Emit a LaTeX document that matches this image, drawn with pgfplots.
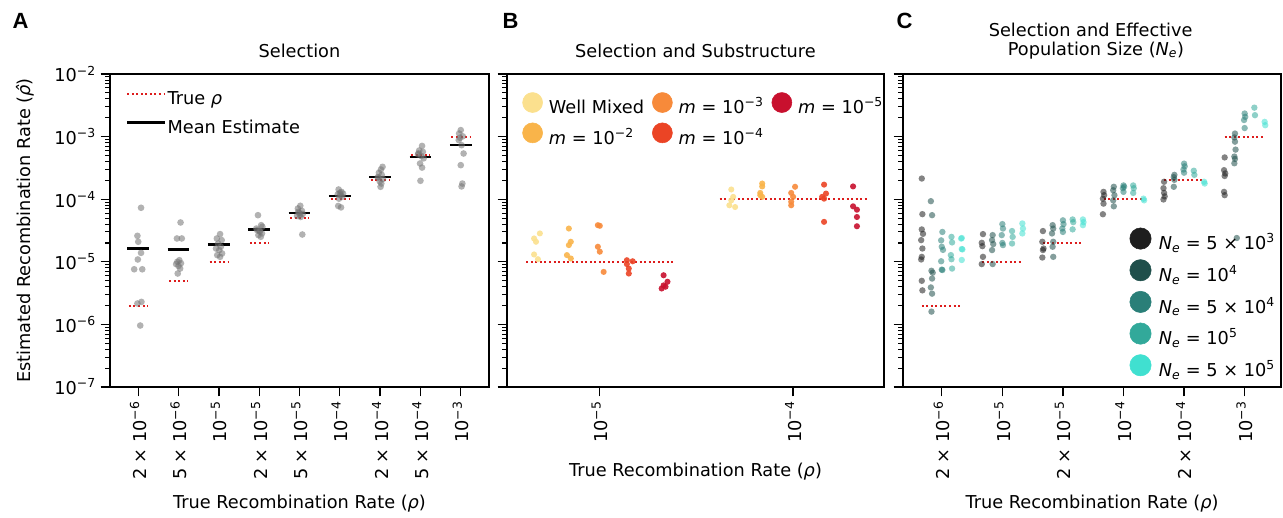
\documentclass[border=0pt]{standalone}
\usepackage{fontspec}
\setmainfont{DejaVu Sans}
\newfontfamily\letterfont{Liberation Sans}
\usepackage{pgfplots}
\pgfplotsset{compat=1.18}
\newcommand\myfs{\fontsize{13.3}{16}\selectfont}
\definecolor{dotred}{HTML}{DD1C1C}
\definecolor{cWM}{HTML}{FBE08E}
\definecolor{cM2}{HTML}{F9B44A}
\definecolor{cM3}{HTML}{F78A3A}
\definecolor{cM4}{HTML}{EB4425}
\definecolor{cM5}{HTML}{C8102E}
\definecolor{cN1}{HTML}{1E1E1E}
\definecolor{cN2}{HTML}{1F4F4B}
\definecolor{cN3}{HTML}{2A7F78}
\definecolor{cN4}{HTML}{32A99A}
\definecolor{cN5}{HTML}{40E0D0}
\begin{document}
\begin{tikzpicture}
\path (0pt,0pt) rectangle (962.25pt,-388.5pt);

% ---------------- Panel A ----------------
\begin{axis}[
  scale only axis, width=284.25pt, height=234.75pt,
  at={(82.5pt,-55.5pt)}, anchor=north west,
  ymode=log, ymin=1e-7, ymax=1e-2,
  ytick={1e-7,1e-6,1e-5,1e-4,1e-3,1e-2},
  minor ytick={2e-7,3e-7,4e-7,5e-7,6e-7,7e-7,8e-7,9e-7,2e-6,3e-6,4e-6,5e-6,6e-6,7e-6,8e-6,9e-6,2e-5,3e-5,4e-5,5e-5,6e-5,7e-5,8e-5,9e-5,2e-4,3e-4,4e-4,5e-4,6e-4,7e-4,8e-4,9e-4,2e-3,3e-3,4e-3,5e-3,6e-3,7e-3,8e-3,9e-3},
  tick align=outside, xtick pos=bottom, ytick pos=left,
  major tick length=7pt, minor tick length=3.5pt,
  major tick style={black, line width=1pt},
  minor tick style={black, line width=0.8pt},
  axis line style={black, line width=1.3pt},
  tick label style={font=\myfs},
  x tick label style={rotate=90, anchor=east},
  xmin=-0.7, xmax=8.7, xtick={0,1,2,3,4,5,6,7,8},
  xticklabels={2 × 10\textsuperscript{−6}, 5 × 10\textsuperscript{−6}, 10\textsuperscript{−5},
    2 × 10\textsuperscript{−5}, 5 × 10\textsuperscript{−5}, 10\textsuperscript{−4},
    2 × 10\textsuperscript{−4}, 5 × 10\textsuperscript{−4}, 10\textsuperscript{−3}},
  yticklabels={10\textsuperscript{−7},10\textsuperscript{−6},10\textsuperscript{−5},
    10\textsuperscript{−4},10\textsuperscript{−3},10\textsuperscript{−2}},
  unbounded coords=jump,
  legend cell align=left,
  legend style={font=\myfs, draw=none, fill=none, inner sep=0pt,
    nodes={inner sep=1pt, text height=11pt, text depth=3.5pt},
    at={(0.042,0.954)}, anchor=north west, row sep=5.25pt,
    /tikz/every odd column/.append style={column sep=0.5pt}},
]
\addlegendimage{legend image code/.code={\draw[dotred, line width=1.5pt, dash pattern=on 1.5pt off 1.9pt] (0pt,4.6pt) -- (28pt,4.6pt);}}
\addlegendentry{True {\itshape ρ}}
\addlegendimage{legend image code/.code={\draw[black, line width=1.6pt] (0pt,4.6pt) -- (28pt,4.6pt);}}
\addlegendentry{Mean Estimate}
\addplot[forget plot, only marks, mark=*, mark size=2.5pt,
  mark options={draw opacity=0, fill=black!55, fill opacity=0.55}] table {
x y
0.07 7.3e-5
-0.02 2.6e-5
0.00 2.09e-5
0.07 1.39e-5
-0.01 1.09e-5
-0.10 7.6e-6
0.10 7.6e-6
0.08 2.29e-6
-0.02 2.16e-6
0.05 9.6e-7
1.05 4.25e-5
0.96 2.36e-5
1.08 2.36e-5
1.02 1.06e-5
0.94 9.2e-6
1.00 8.6e-6
1.04 7.8e-6
0.98 6.5e-6
1.06 9.5e-6
0.97 1.0e-5
2.03 2.77e-5
1.95 2.36e-5
2.07 2.22e-5
1.98 1.96e-5
2.05 1.74e-5
1.93 1.63e-5
2.01 1.54e-5
2.08 1.36e-5
1.96 1.28e-5
2.03 1.2e-5
2.97 5.56e-5
3.05 3.85e-5
3.08 3.63e-5
2.95 3.21e-5
3.02 3.02e-5
3.07 2.84e-5
2.98 2.67e-5
3.04 2.51e-5
2.93 3.4e-5
3.01 3.1e-5
4.02 7.85e-5
3.96 7.1e-5
4.06 6.5e-5
3.99 6.07e-5
4.08 5.8e-5
3.94 5.4e-5
4.03 5.2e-5
4.07 2.73e-5
3.97 6.3e-5
4.01 5.6e-5
4.97 1.43e-4
5.04 1.31e-4
5.08 1.23e-4
4.95 1.2e-4
5.02 1.16e-4
5.06 1.09e-4
4.98 1.02e-4
4.96 7.8e-5
5.03 7.4e-5
5.00 1.26e-4
6.06 3.29e-4
6.02 2.98e-4
5.97 2.65e-4
6.04 2.45e-4
5.94 2.25e-4
6.07 2.1e-4
5.99 1.93e-4
6.03 1.78e-4
6.01 1.58e-4
5.96 2.2e-4
7.04 7.1e-4
6.97 6.0e-4
7.06 5.7e-4
6.95 5.4e-4
7.02 4.9e-4
7.08 4.5e-4
6.99 3.72e-4
7.04 3.2e-4
7.00 1.97e-4
6.94 5.2e-4
8.00 1.27e-3
7.96 1.12e-3
8.05 1.01e-3
7.95 8.8e-4
8.02 7.3e-4
8.07 5.37e-4
8.00 3.5e-4
8.04 1.78e-4
8.02 1.6e-4
7.98 9.6e-4
};
\addplot[forget plot, mark=none, color=dotred, line width=1.5pt, dash pattern=on 1.5pt off 1.9pt] table {
x y
-0.23 2e-6
0.23 2e-6
nan nan
0.77 5e-6
1.23 5e-6
nan nan
1.77 1e-5
2.23 1e-5
nan nan
2.77 2e-5
3.23 2e-5
nan nan
3.77 5e-5
4.23 5e-5
nan nan
4.77 1e-4
5.23 1e-4
nan nan
5.77 2e-4
6.23 2e-4
nan nan
6.77 5e-4
7.23 5e-4
nan nan
7.77 1e-3
8.23 1e-3
};
\addplot[forget plot, mark=none, black, line width=1.6pt] table {
x y
-0.27 1.63e-5
0.27 1.63e-5
nan nan
0.73 1.57e-5
1.27 1.57e-5
nan nan
1.73 1.89e-5
2.27 1.89e-5
nan nan
2.73 3.29e-5
3.27 3.29e-5
nan nan
3.73 5.98e-5
4.27 5.98e-5
nan nan
4.73 1.13e-4
5.27 1.13e-4
nan nan
5.73 2.25e-4
6.27 2.25e-4
nan nan
6.73 4.75e-4
7.27 4.75e-4
nan nan
7.73 7.3e-4
8.27 7.3e-4
};
\end{axis}

% ---------------- Panel B ----------------
\begin{axis}[
  scale only axis, width=282.75pt, height=234.75pt,
  at={(380.25pt,-55.5pt)}, anchor=north west,
  ymode=log, ymin=1e-7, ymax=1e-2,
  ytick={1e-7,1e-6,1e-5,1e-4,1e-3,1e-2},
  minor ytick={2e-7,3e-7,4e-7,5e-7,6e-7,7e-7,8e-7,9e-7,2e-6,3e-6,4e-6,5e-6,6e-6,7e-6,8e-6,9e-6,2e-5,3e-5,4e-5,5e-5,6e-5,7e-5,8e-5,9e-5,2e-4,3e-4,4e-4,5e-4,6e-4,7e-4,8e-4,9e-4,2e-3,3e-3,4e-3,5e-3,6e-3,7e-3,8e-3,9e-3},
  tick align=outside, xtick pos=bottom, ytick pos=left,
  major tick length=7pt, minor tick length=3.5pt,
  major tick style={black, line width=1pt},
  minor tick style={black, line width=0.8pt},
  axis line style={black, line width=1.3pt},
  tick label style={font=\myfs},
  x tick label style={rotate=90, anchor=east},
  xmin=-0.48, xmax=1.47, xtick={0,1},
  xticklabels={10\textsuperscript{−5}, 10\textsuperscript{−4}},
  yticklabels={},
  unbounded coords=jump,
  legend cell align=left,
  legend columns=3,
  legend style={font=\myfs, draw=none, fill=none, inner sep=0pt,
    nodes={inner sep=1pt, text height=11pt, text depth=3.5pt},
    at={(0.04,0.9425)}, anchor=north west, row sep=2.2pt,
    /tikz/every odd column/.append style={column sep=3.5pt},
    /tikz/every even column/.append style={column sep=5pt}},
]
\addlegendimage{legend image code/.code={\fill[cWM] (7.5pt,4.6pt) circle (7.5pt);}}
\addlegendentry{Well Mixed}
\addlegendimage{legend image code/.code={\fill[cM3] (7.5pt,4.6pt) circle (7.5pt);}}
\addlegendentry{{\itshape m} = 10\textsuperscript{−3}}
\addlegendimage{legend image code/.code={\fill[cM5] (7.5pt,4.6pt) circle (7.5pt);}}
\addlegendentry{{\itshape m} = 10\textsuperscript{−5}}
\addlegendimage{legend image code/.code={\fill[cM2] (7.5pt,4.6pt) circle (7.5pt);}}
\addlegendentry{{\itshape m} = 10\textsuperscript{−2}}
\addlegendimage{legend image code/.code={\fill[cM4] (7.5pt,4.6pt) circle (7.5pt);}}
\addlegendentry{{\itshape m} = 10\textsuperscript{−4}}
\addplot[forget plot, mark=none, color=dotred, line width=1.5pt, dash pattern=on 1.5pt off 1.9pt] table {
x y
-0.38 1e-5
0.38 1e-5
nan nan
0.62 1e-4
1.38 1e-4
};
\addplot[forget plot, only marks, mark=*, mark size=2.3pt, mark options={draw opacity=0, fill=cWM, fill opacity=0.9}] table {
x y
-0.31 2.84e-5
-0.34 2.36e-5
-0.33 2.09e-5
-0.34 1.31e-5
-0.32 1.1e-5
0.68 1.43e-4
0.69 1.09e-4
0.67 8.0e-5
0.70 7.5e-5
0.68 9.6e-5
};
\addplot[forget plot, only marks, mark=*, mark size=2.3pt, mark options={draw opacity=0, fill=cM2, fill opacity=0.9}] table {
x y
-0.16 3.4e-5
-0.15 2.09e-5
-0.16 1.85e-5
-0.17 1.28e-5
-0.15 1.13e-5
0.84 1.78e-4
0.84 1.6e-4
0.83 1.26e-4
0.84 1.09e-4
0.83 1.16e-4
};
\addplot[forget plot, only marks, mark=*, mark size=2.3pt, mark options={draw opacity=0, fill=cM3, fill opacity=0.9}] table {
x y
-0.01 3.85e-5
0.00 3.76e-5
-0.01 1.74e-5
0.00 1.45e-5
0.02 6.9e-6
1.01 1.58e-4
0.99 1.26e-4
1.00 1.09e-4
0.99 9.1e-5
0.99 8.0e-5
};
\addplot[forget plot, only marks, mark=*, mark size=2.3pt, mark options={draw opacity=0, fill=cM4, fill opacity=0.9}] table {
x y
0.14 1.06e-5
0.14 9.2e-6
0.15 7.8e-6
0.15 6.5e-6
0.17 1.02e-5
1.16 1.71e-4
1.17 1.23e-4
1.15 1.09e-4
1.16 1.02e-4
1.16 4.35e-5
};
\addplot[forget plot, only marks, mark=*, mark size=2.3pt, mark options={draw opacity=0, fill=cM5, fill opacity=0.9}] table {
x y
0.33 6.1e-6
0.35 4.8e-6
0.33 4.2e-6
0.32 3.75e-6
0.34 4.0e-6
1.31 1.6e-4
1.31 7.7e-5
1.33 6.8e-5
1.33 5.2e-5
1.33 3.7e-5
};
\end{axis}

% ---------------- Panel C ----------------
\begin{axis}[
  scale only axis, width=283.5pt, height=234.75pt,
  at={(677.25pt,-55.5pt)}, anchor=north west,
  ymode=log, ymin=1e-7, ymax=1e-2,
  ytick={1e-7,1e-6,1e-5,1e-4,1e-3,1e-2},
  minor ytick={2e-7,3e-7,4e-7,5e-7,6e-7,7e-7,8e-7,9e-7,2e-6,3e-6,4e-6,5e-6,6e-6,7e-6,8e-6,9e-6,2e-5,3e-5,4e-5,5e-5,6e-5,7e-5,8e-5,9e-5,2e-4,3e-4,4e-4,5e-4,6e-4,7e-4,8e-4,9e-4,2e-3,3e-3,4e-3,5e-3,6e-3,7e-3,8e-3,9e-3},
  tick align=outside, xtick pos=bottom, ytick pos=left,
  major tick length=7pt, minor tick length=3.5pt,
  major tick style={black, line width=1pt},
  minor tick style={black, line width=0.8pt},
  axis line style={black, line width=1.3pt},
  tick label style={font=\myfs},
  x tick label style={rotate=90, anchor=east},
  xmin=-0.64, xmax=5.6, xtick={0,1,2,3,4,5},
  xticklabels={2 × 10\textsuperscript{−6}, 10\textsuperscript{−5}, 2 × 10\textsuperscript{−5},
    10\textsuperscript{−4}, 2 × 10\textsuperscript{−4}, 10\textsuperscript{−3}},
  yticklabels={},
  unbounded coords=jump,
  legend cell align=left,
  legend style={font=\myfs, draw=none, fill=none, inner sep=0pt,
    nodes={inner sep=1pt, text height=11pt, text depth=3.5pt},
    at={(0.5987,0.51)}, anchor=north west, row sep=2.7pt, column sep=4.5pt},
]
\addlegendimage{legend image code/.code={\fill[cN1] (8pt,4.6pt) circle (8pt);}}
\addlegendentry{{\itshape N}\textsubscript{\itshape e} = 5 × 10\textsuperscript{3}}
\addlegendimage{legend image code/.code={\fill[cN2] (8pt,4.6pt) circle (8pt);}}
\addlegendentry{{\itshape N}\textsubscript{\itshape e} = 10\textsuperscript{4}}
\addlegendimage{legend image code/.code={\fill[cN3] (8pt,4.6pt) circle (8pt);}}
\addlegendentry{{\itshape N}\textsubscript{\itshape e} = 5 × 10\textsuperscript{4}}
\addlegendimage{legend image code/.code={\fill[cN4] (8pt,4.6pt) circle (8pt);}}
\addlegendentry{{\itshape N}\textsubscript{\itshape e} = 10\textsuperscript{5}}
\addlegendimage{legend image code/.code={\fill[cN5] (8pt,4.6pt) circle (8pt);}}
\addlegendentry{{\itshape N}\textsubscript{\itshape e} = 5 × 10\textsuperscript{5}}
\addplot[forget plot, mark=none, color=dotred, line width=1.5pt, dash pattern=on 1.5pt off 1.9pt] table {
x y
-0.33 2e-6
0.31 2e-6
nan nan
0.67 1e-5
1.31 1e-5
nan nan
1.67 2e-5
2.31 2e-5
nan nan
2.67 1e-4
3.31 1e-4
nan nan
3.67 2e-4
4.31 2e-4
nan nan
4.67 1e-3
5.31 1e-3
};
\addplot[forget plot, only marks, mark=*, mark size=2.4pt, mark options={draw opacity=0, fill=cN1, fill opacity=0.55}] table {
x y
-0.33 2.14e-4
-0.32 5.77e-5
-0.33 3.29e-5
-0.34 2.22e-5
-0.32 1.63e-5
-0.33 1.2e-5
-0.34 1.09e-5
-0.33 4.97e-6
-0.32 3.5e-6
-0.31 2.8e-5
0.68 2.77e-5
0.66 2.01e-5
0.67 1.78e-5
0.68 1.2e-5
0.66 9.2e-6
1.67 3.1e-5
1.66 2.09e-5
1.68 1.63e-5
1.67 1.54e-5
1.66 1.17e-5
2.67 1.31e-4
2.68 1.16e-4
2.66 1.02e-4
2.67 8.5e-5
2.66 5.75e-5
3.67 1.9e-4
3.66 1.5e-4
3.67 1.26e-4
3.68 1.11e-4
3.66 9.9e-5
4.67 4.65e-4
4.66 2.91e-4
4.68 2.58e-4
4.67 2.35e-4
4.66 1.31e-4
4.67 1.16e-4
};
\addplot[forget plot, only marks, mark=*, mark size=2.4pt, mark options={draw opacity=0, fill=cN2, fill opacity=0.55}] table {
x y
-0.18 9.3e-5
-0.16 5.56e-5
-0.17 7.2e-6
-0.15 6.7e-6
-0.16 5.4e-6
-0.18 3.9e-6
-0.16 3.1e-6
-0.17 1.6e-6
0.84 2.67e-5
0.83 2.22e-5
0.85 1.92e-5
0.83 1.54e-5
0.84 9.2e-6
1.83 3.85e-5
1.84 3.4e-5
1.82 2.84e-5
1.84 2.09e-5
1.83 1.74e-5
1.84 1.2e-5
2.84 1.58e-4
2.83 1.39e-4
2.85 1.16e-4
2.83 9.6e-5
2.84 7.7e-5
3.84 2.45e-4
3.83 2.25e-4
3.84 2.04e-4
3.83 1.58e-4
4.84 1.12e-3
4.83 9.7e-4
4.84 8.3e-4
4.85 6.2e-4
4.83 4.8e-4
4.84 4.4e-4
4.83 3.75e-4
4.87 2.4e-5
};
\addplot[forget plot, only marks, mark=*, mark size=2.4pt, mark options={draw opacity=0, fill=cN3, fill opacity=0.55}] table {
x y
0.01 3.0e-5
-0.01 2.2e-5
0.00 1.74e-5
0.02 1.55e-5
-0.01 1.02e-5
0.00 7.5e-6
0.01 7.4e-6
1.00 4.0e-5
1.01 3.4e-5
0.99 2.67e-5
1.00 2.0e-5
1.01 1.85e-5
2.00 4.6e-5
2.01 4.0e-5
1.99 3.4e-5
2.00 3.0e-5
3.00 1.66e-4
3.01 1.58e-4
2.99 1.5e-4
3.00 1.31e-4
4.00 3.7e-4
4.01 3.35e-4
3.99 2.98e-4
4.00 2.65e-4
5.00 2.34e-3
5.01 2.07e-3
4.99 1.84e-3
5.00 1.37e-3
};
\addplot[forget plot, only marks, mark=*, mark size=2.4pt, mark options={draw opacity=0, fill=cN4, fill opacity=0.55}] table {
x y
0.16 2.5e-5
0.17 2.04e-5
0.15 1.28e-5
0.16 1.1e-5
0.17 7.8e-6
1.16 3.1e-5
1.17 2.5e-5
1.16 1.96e-5
2.16 4.75e-5
2.17 4.3e-5
2.16 3.3e-5
3.16 1.66e-4
3.17 1.5e-4
3.16 1.26e-4
4.16 2.85e-4
4.17 2.45e-4
5.16 2.9e-3
5.17 2.2e-3
};
\addplot[forget plot, only marks, mark=*, mark size=2.4pt, mark options={draw opacity=0, fill=cN5, fill opacity=0.55}] table {
x y
0.33 2.4e-5
0.34 1.58e-5
0.33 1.07e-5
0.32 2.35e-5
0.33 1.6e-5
1.33 4.1e-5
1.34 3.4e-5
1.33 2.84e-5
2.33 4.75e-5
2.34 4.3e-5
2.33 3.85e-5
3.33 1.02e-4
3.34 9.6e-5
4.33 1.9e-4
4.34 1.78e-4
5.33 1.72e-3
5.34 1.52e-3
};
\end{axis}

% ---------------- Texts ----------------
\node[anchor=base west, font=\letterfont\bfseries\fontsize{16.5}{18}\selectfont] at (6pt,-21pt) {A};
\node[anchor=base west, font=\letterfont\bfseries\fontsize{16.5}{18}\selectfont] at (373.5pt,-21pt) {B};
\node[anchor=base west, font=\letterfont\bfseries\fontsize{16.5}{18}\selectfont] at (669pt,-21pt) {C};
\node[anchor=base, font=\myfs] at (224.6pt,-42.75pt) {Selection};
\node[anchor=base, font=\myfs] at (521.6pt,-42.75pt) {Selection and Substructure};
\node[anchor=base, font=\myfs] at (818pt,-27.5pt) {Selection and Effective};
\node[anchor=base, font=\myfs] at (822pt,-41.25pt) {Population Size ({\itshape N}\textsubscript{\itshape e})};
\node[anchor=center, rotate=90, font=\myfs] at (18.75pt,-172.9pt) {Estimated Recombination Rate ({\itshape ρ̂})};
\node[anchor=base, font=\myfs] at (224.6pt,-381pt) {True Recombination Rate ({\itshape ρ})};
\node[anchor=base, font=\myfs] at (521.6pt,-357pt) {True Recombination Rate ({\itshape ρ})};
\node[anchor=base, font=\myfs] at (819pt,-381pt) {True Recombination Rate ({\itshape ρ})};
\end{tikzpicture}
\end{document}
